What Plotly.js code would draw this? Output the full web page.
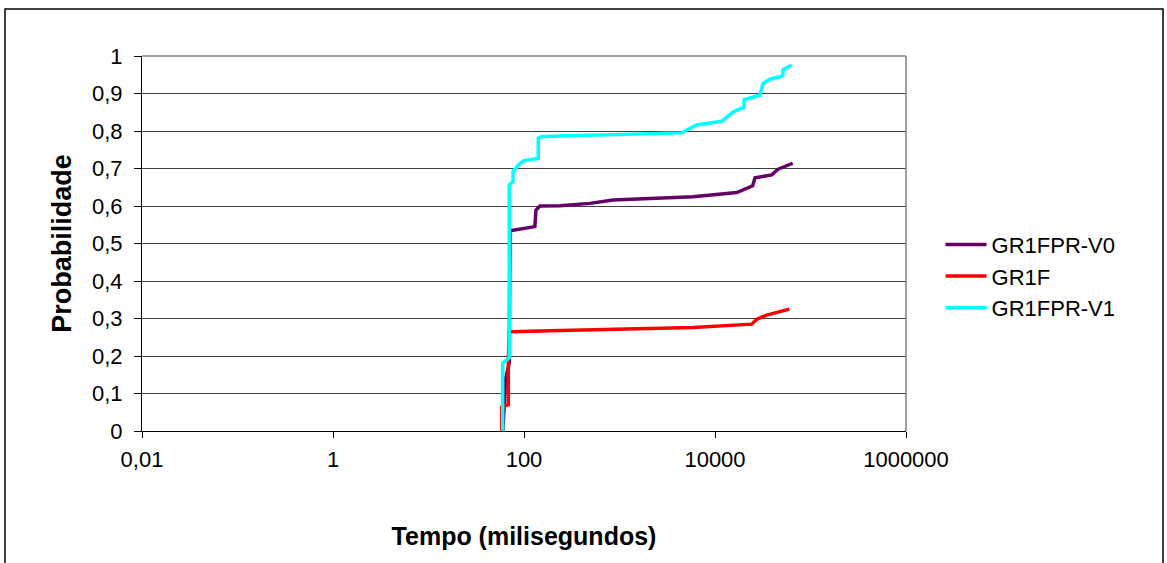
<!DOCTYPE html>
<html>
<head>
<meta charset="utf-8">
<script src="https://cdn.plot.ly/plotly-3.0.1.min.js"></script>
<style>
html,body{margin:0;padding:0;background:#fff;}
#chart{width:1167px;height:563px;}
</style>
</head>
<body>
<div id="chart"></div>
<script>
// Series data (x = tempo em ms, y = probabilidade)
const v0X = [60, 64.3, 64.3, 70, 71.3, 130, 133.5, 147, 238, 491, 855, 5890, 16880, 24810, 26240, 39250, 45700, 65130];
const v0Y = [0, 0.13, 0.14, 0.18, 0.534, 0.545, 0.589, 0.6, 0.601, 0.607, 0.616, 0.625, 0.636, 0.654, 0.675, 0.683, 0.698, 0.714];

const fX = [58.4, 58.4, 68.5, 68.5, 70, 74.9, 238, 5890, 24230, 27350, 34770, 59980];
const fY = [0, 0.064, 0.07, 0.19, 0.264, 0.265, 0.268, 0.276, 0.285, 0.298, 0.309, 0.325];

const v1X = [59.8, 59.8, 70, 70, 76.7, 76.7, 90.8, 100, 141, 141, 153, 238, 4480, 6430, 11750, 15430, 20130, 20130, 29600, 31830, 37670, 51170, 51540, 63530];
const v1Y = [0, 0.181, 0.195, 0.656, 0.665, 0.692, 0.714, 0.721, 0.727, 0.781, 0.785, 0.787, 0.795, 0.816, 0.826, 0.851, 0.864, 0.883, 0.896, 0.927, 0.938, 0.947, 0.963, 0.976];

const seriesNames = ['GR1FPR-V0', 'GR1F', 'GR1FPR-V1'];
const seriesColors = ['#660066', '#FF0000', '#00FFFF'];

const xTickVals = [0.01, 1, 100, 10000, 1000000];
const xTickText = ['0,01', '1', '100', '10000', '1000000'];
const yTickVals = [0, 0.1, 0.2, 0.3, 0.4, 0.5, 0.6, 0.7, 0.8, 0.9, 1];
const yTickText = ['0', '0,1', '0,2', '0,3', '0,4', '0,5', '0,6', '0,7', '0,8', '0,9', '1'];

const xs = [v0X, fX, v1X];
const ys = [v0Y, fY, v1Y];
const traces = seriesNames.map((n, i) => ({
  type: 'scatter', mode: 'lines', name: n,
  x: xs[i], y: ys[i],
  line: {color: seriesColors[i], width: 3.5}
}));

const font = 'Liberation Sans, Arial, sans-serif';
const layout = {
  width: 1167, height: 563,
  margin: {l: 142, r: 261, t: 56, b: 132, autoexpand: false},
  paper_bgcolor: '#fff', plot_bgcolor: '#fff',
  font: {family: font, color: '#000', size: 22},
  showlegend: true,
  legend: {x: 1.0452, xanchor: 'left', y: 0.413, yanchor: 'middle', itemwidth: 41,
    font: {family: font, size: 22, color: '#000'}, bgcolor: 'rgba(0,0,0,0)', tracegroupgap: 0},
  xaxis: {
    type: 'log', range: [-2, 6], tickvals: xTickVals, ticktext: xTickText,
    showgrid: false, zeroline: false,
    showline: true, linecolor: '#000', linewidth: 1,
    ticks: 'outside', ticklen: 6, tickcolor: '#000', ticklabelstandoff: 3,
    tickfont: {family: font, size: 22},
    automargin: false,
    title: {text: 'Tempo (milisegundos)', font: {family: font, size: 25, weight: 'bold'}, standoff: 56}
  },
  yaxis: {
    range: [0, 1], tickvals: yTickVals, ticktext: yTickText,
    showgrid: true, gridcolor: '#404040', gridwidth: 1, zeroline: false,
    showline: true, linecolor: '#000', linewidth: 1,
    ticks: 'outside', ticklen: 7, tickcolor: '#000', ticklabelstandoff: 7,
    tickfont: {family: font, size: 22},
    automargin: false,
    title: {text: 'Probabilidade', font: {family: font, size: 27, weight: 'bold'}, standoff: 12}
  },
  shapes: [
    // plot area border (top & right, grey)
    {type: 'line', xref: 'paper', yref: 'paper', x0: 0, x1: 1, y0: 1, y1: 1, line: {color: '#808080', width: 1.5}},
    {type: 'line', xref: 'paper', yref: 'paper', x0: 1, x1: 1, y0: 0, y1: 1, line: {color: '#808080', width: 1.5}},
    // outer chart border
    {type: 'rect', xref: 'paper', yref: 'paper', x0: -0.1793, x1: 1.3364, y0: -0.38, y1: 1.1253, line: {color: '#000', width: 1.5}, layer: 'below'}
  ]
};

Plotly.newPlot('chart', traces, layout, {displayModeBar: false, staticPlot: true});
</script>
</body>
</html>
